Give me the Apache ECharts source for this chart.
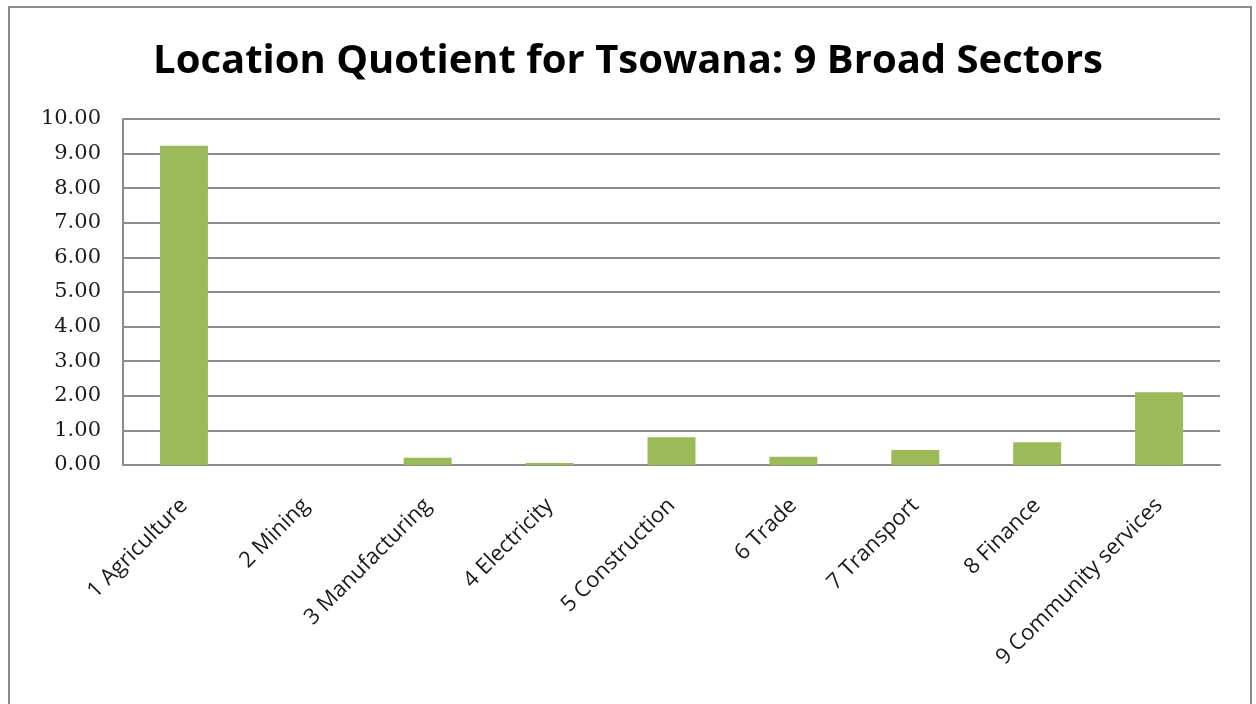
<!DOCTYPE html>
<html>
<head>
<meta charset="utf-8">
<style>
  html, body { margin: 0; padding: 0; background: #ffffff; }
  #chart { width: 1256px; height: 704px; }
</style>
<script src="https://cdn.jsdelivr.net/npm/echarts@6/dist/echarts.min.js"></script>
</head>
<body>
<div id="chart"></div>
<script>
// Sector names on the category axis
const sectors = [
  '1 Agriculture', '2 Mining', '3 Manufacturing', '4 Electricity',
  '5 Construction', '6 Trade', '7 Transport', '8 Finance', '9 Community services'
];
// Location quotient per sector
const quotients = [9.23, 0.00, 0.21, 0.06, 0.80, 0.24, 0.43, 0.66, 2.10];
// Value axis range
const yMin = 0;
const yMax = 10;
const yStep = 1;

const chart = echarts.init(document.getElementById('chart'));
chart.setOption({
  animation: false,
  backgroundColor: '#ffffff',
  graphic: [{
    type: 'rect',
    shape: { x: 9, y: 7, width: 1242, height: 720 },
    style: { fill: 'none', stroke: '#8c8c8c', lineWidth: 2 },
    silent: true
  }],
  title: {
    text: 'Location Quotient for Tsowana: 9 Broad Sectors',
    left: 'center',
    top: 37,
    textStyle: {
      fontFamily: 'Open Sans',
      fontWeight: 'bold',
      fontSize: 40,
      color: '#000000'
    }
  },
  grid: { left: 123, right: 36, top: 119, bottom: 239, containLabel: false },
  xAxis: {
    type: 'category',
    data: sectors,
    axisLine: { show: true, lineStyle: { color: '#8c8c8c', width: 2 } },
    axisTick: { show: false },
    axisLabel: {
      rotate: 45,
      interval: 0,
      margin: 37,
      fontFamily: 'Open Sans',
      fontSize: 22,
      color: '#1a1a1a'
    }
  },
  yAxis: {
    type: 'value',
    min: yMin,
    max: yMax,
    interval: yStep,
    axisLine: { show: true, lineStyle: { color: '#8c8c8c', width: 2 } },
    axisTick: { show: false },
    splitLine: { lineStyle: { color: '#8c8c8c', width: 2 } },
    axisLabel: {
      margin: 22,
      fontFamily: 'DejaVu Serif',
      fontSize: 21,
      color: '#1a1a1a',
      formatter: v => v.toFixed(2)
    }
  },
  series: [{
    type: 'bar',
    data: quotients,
    barWidth: 48,
    itemStyle: { color: '#9bbb59' }
  }]
});
</script>
</body>
</html>
